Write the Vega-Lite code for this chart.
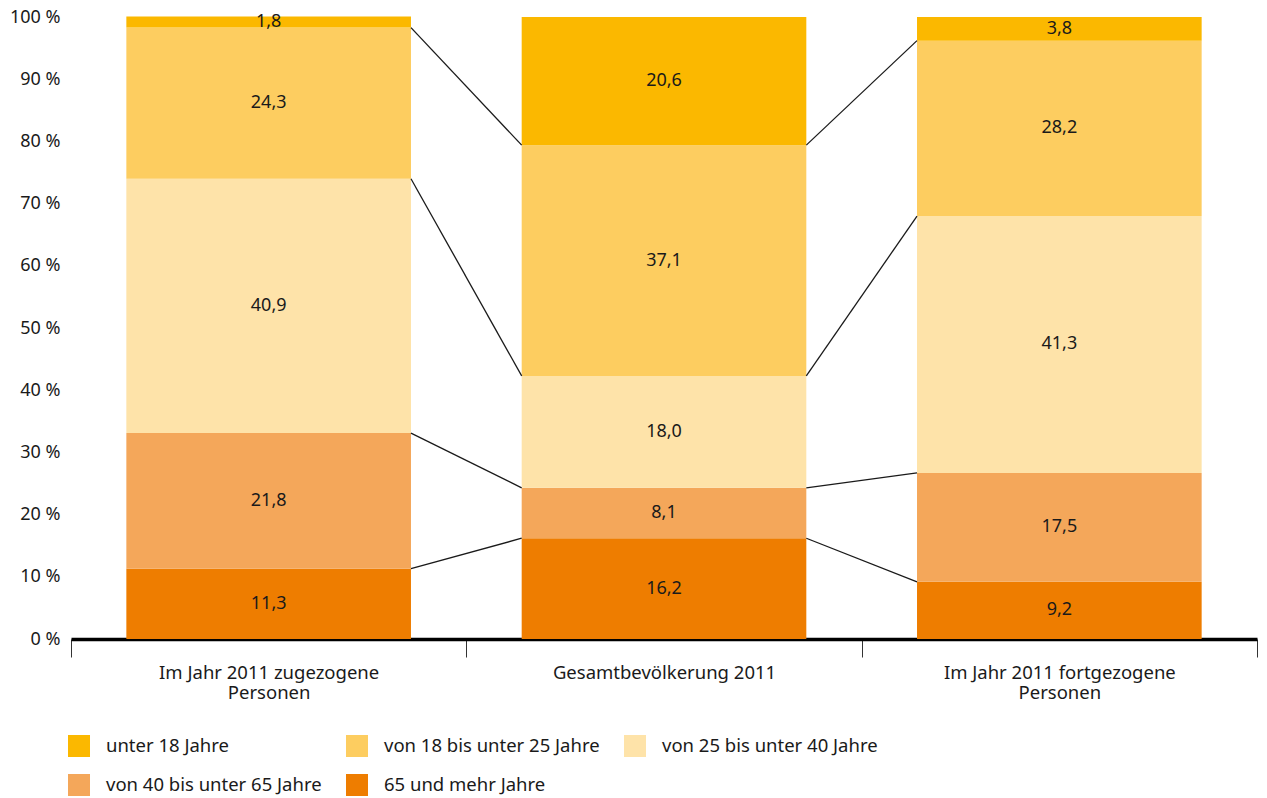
{
  "$schema": "https://vega.github.io/schema/vega-lite/v6.json",
  "width": 1186,
  "height": 622,
  "autosize": "none",
  "padding": {"left": 71, "top": 17, "right": 10, "bottom": 159},
  "background": "white",
  "config": {
    "view": {"stroke": null},
    "font": "Noto Sans",
    "locale": {"number": {"decimal": ",", "thousands": ".", "grouping": [3], "currency": ["", " €"]}}
  },
  "datasets": {
    "bars": [
      {"gruppe": "Im Jahr 2011 zugezogene Personen", "alter": "65 und mehr Jahre", "ord": 1, "anteil": 11.3},
      {"gruppe": "Im Jahr 2011 zugezogene Personen", "alter": "von 40 bis unter 65 Jahre", "ord": 2, "anteil": 21.8},
      {"gruppe": "Im Jahr 2011 zugezogene Personen", "alter": "von 25 bis unter 40 Jahre", "ord": 3, "anteil": 40.9},
      {"gruppe": "Im Jahr 2011 zugezogene Personen", "alter": "von 18 bis unter 25 Jahre", "ord": 4, "anteil": 24.3},
      {"gruppe": "Im Jahr 2011 zugezogene Personen", "alter": "unter 18 Jahre", "ord": 5, "anteil": 1.8},
      {"gruppe": "Gesamtbevölkerung 2011", "alter": "65 und mehr Jahre", "ord": 1, "anteil": 16.2},
      {"gruppe": "Gesamtbevölkerung 2011", "alter": "von 40 bis unter 65 Jahre", "ord": 2, "anteil": 8.1},
      {"gruppe": "Gesamtbevölkerung 2011", "alter": "von 25 bis unter 40 Jahre", "ord": 3, "anteil": 18.0},
      {"gruppe": "Gesamtbevölkerung 2011", "alter": "von 18 bis unter 25 Jahre", "ord": 4, "anteil": 37.1},
      {"gruppe": "Gesamtbevölkerung 2011", "alter": "unter 18 Jahre", "ord": 5, "anteil": 20.6},
      {"gruppe": "Im Jahr 2011 fortgezogene Personen", "alter": "65 und mehr Jahre", "ord": 1, "anteil": 9.2},
      {"gruppe": "Im Jahr 2011 fortgezogene Personen", "alter": "von 40 bis unter 65 Jahre", "ord": 2, "anteil": 17.5},
      {"gruppe": "Im Jahr 2011 fortgezogene Personen", "alter": "von 25 bis unter 40 Jahre", "ord": 3, "anteil": 41.3},
      {"gruppe": "Im Jahr 2011 fortgezogene Personen", "alter": "von 18 bis unter 25 Jahre", "ord": 4, "anteil": 28.2},
      {"gruppe": "Im Jahr 2011 fortgezogene Personen", "alter": "unter 18 Jahre", "ord": 5, "anteil": 3.8}
    ],
    "links": [
      {"von": "Im Jahr 2011 zugezogene Personen", "nach": "Gesamtbevölkerung 2011", "y1": 11.3, "y2": 16.2},
      {"von": "Im Jahr 2011 zugezogene Personen", "nach": "Gesamtbevölkerung 2011", "y1": 33.1, "y2": 24.3},
      {"von": "Im Jahr 2011 zugezogene Personen", "nach": "Gesamtbevölkerung 2011", "y1": 74.0, "y2": 42.3},
      {"von": "Im Jahr 2011 zugezogene Personen", "nach": "Gesamtbevölkerung 2011", "y1": 98.3, "y2": 79.4},
      {"von": "Gesamtbevölkerung 2011", "nach": "Im Jahr 2011 fortgezogene Personen", "y1": 16.2, "y2": 9.2},
      {"von": "Gesamtbevölkerung 2011", "nach": "Im Jahr 2011 fortgezogene Personen", "y1": 24.3, "y2": 26.7},
      {"von": "Gesamtbevölkerung 2011", "nach": "Im Jahr 2011 fortgezogene Personen", "y1": 42.3, "y2": 68.0},
      {"von": "Gesamtbevölkerung 2011", "nach": "Im Jahr 2011 fortgezogene Personen", "y1": 79.4, "y2": 96.2}
    ]
  },
  "layer": [
    {
      "data": {"name": "bars"},
      "mark": {"type": "bar", "width": {"band": 0.72}},
      "encoding": {
        "x": {
          "field": "gruppe", "type": "nominal",
          "scale": {
            "type": "band", "paddingInner": 0, "paddingOuter": 0,
            "domain": ["Im Jahr 2011 zugezogene Personen", "Gesamtbevölkerung 2011", "Im Jahr 2011 fortgezogene Personen"]
          },
          "axis": {
            "title": null, "labelAngle": 0, "tickBand": "extent",
            "domainColor": "#000000", "domainWidth": 3.5,
            "tickColor": "#333333", "tickWidth": 1, "tickSize": 18,
            "labelFontSize": 18.5, "labelColor": "#1a1a1a", "labelPadding": 6,
            "labelLimit": 500, "labelLineHeight": 20,
            "labelExpr": "!isValid(datum.value) ? '' : datum.value == 'Gesamtbevölkerung 2011' ? datum.value : [replace(datum.value, ' Personen', ''), 'Personen']"
          }
        },
        "y": {
          "field": "anteil", "type": "quantitative", "stack": "zero",
          "scale": {"domain": [0, 100], "nice": false},
          "axis": {
            "title": null, "domain": false, "grid": false, "ticks": false,
            "values": [0, 10, 20, 30, 40, 50, 60, 70, 80, 90, 100],
            "labelExpr": "datum.value + ' %'",
            "labelFontSize": 18, "labelColor": "#1a1a1a", "labelPadding": 11
          }
        },
        "order": {"field": "ord", "type": "quantitative", "sort": "ascending"},
        "color": {
          "field": "alter", "type": "nominal",
          "scale": {
            "domain": ["unter 18 Jahre", "von 18 bis unter 25 Jahre", "von 25 bis unter 40 Jahre", "von 40 bis unter 65 Jahre", "65 und mehr Jahre"],
            "range": ["#FBB800", "#FDCD60", "#FEE3A9", "#F4A75A", "#EE7D00"]
          },
          "legend": {
            "title": null, "orient": "none", "legendX": -3, "legendY": 718,
            "columns": 3, "direction": "horizontal",
            "symbolType": "square", "symbolSize": 484, "symbolStrokeWidth": 0, "symbolOpacity": 1,
            "labelFontSize": 18.5, "labelColor": "#1a1a1a", "labelOffset": 16,
            "rowPadding": 17, "columnPadding": 24, "labelLimit": 400
          }
        }
      }
    },
    {
      "data": {"name": "links"},
      "mark": {"type": "rule", "color": "#1a1a1a", "strokeWidth": 1.3},
      "encoding": {
        "x": {"field": "von", "type": "nominal", "bandPosition": 0.86},
        "x2": {"field": "nach", "bandPosition": 0.14},
        "y": {"field": "y1", "type": "quantitative"},
        "y2": {"field": "y2"}
      }
    },
    {
      "data": {"name": "bars"},
      "mark": {"type": "text", "fontSize": 18, "color": "#1a1a1a", "baseline": "middle"},
      "encoding": {
        "x": {"field": "gruppe", "type": "nominal"},
        "y": {"field": "anteil", "type": "quantitative", "stack": "zero", "bandPosition": 0.5},
        "order": {"field": "ord", "type": "quantitative", "sort": "ascending"},
        "detail": {"field": "alter"},
        "text": {"field": "anteil", "type": "quantitative", "format": ".1f"}
      }
    }
  ]
}
